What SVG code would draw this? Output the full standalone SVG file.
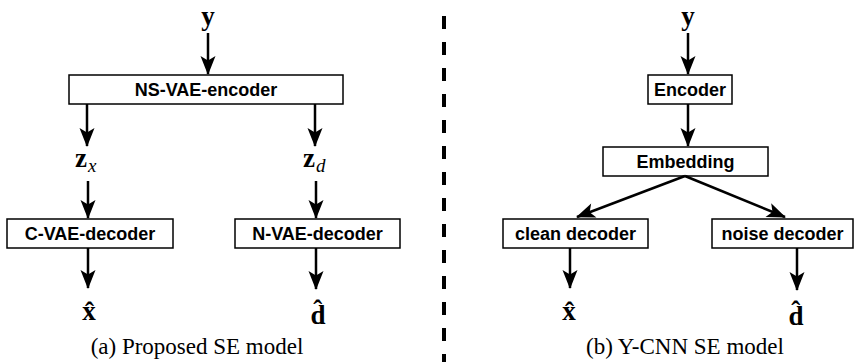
<svg xmlns="http://www.w3.org/2000/svg" width="855" height="362" viewBox="0 0 855 362">
  <style>
    .box { fill: #fff; stroke: #000; stroke-width: 1.5; }
    .lbl { font-family: "Liberation Sans", Arial, sans-serif; font-weight: bold; font-size: 18px; text-anchor: middle; fill: #000; }
    .math { font-family: "Liberation Serif", "Times New Roman", serif; font-weight: bold; font-size: 27px; fill: #000; }
    .sub { font-family: "Liberation Serif", "Times New Roman", serif; font-weight: normal; font-style: italic; font-size: 19px; fill: #000; }
    .cap { font-family: "Liberation Serif", "Times New Roman", serif; font-size: 23px; text-anchor: middle; fill: #000; }
    .edge { stroke: #000; stroke-width: 2.5; fill: none; marker-end: url(#arrow); }
    .sep { stroke: #000; stroke-width: 4; stroke-dasharray: 13 13; }
  </style>
  <defs>
    <marker id="arrow" markerUnits="userSpaceOnUse" markerWidth="24" markerHeight="20" viewBox="-21 -10 24 20" refX="0" refY="0" orient="auto">
      <path d="M1,0 L-18,-7.5 L-13.5,0 L-18,7.5 Z" fill="#000"/>
    </marker>
  </defs>

  <!-- panel divider -->
  <line class="sep" x1="444" y1="16" x2="444" y2="362"/>

  <!-- (a) proposed model -->
  <g id="a-input"><text class="math" x="208" y="25" text-anchor="middle">y</text></g>
  <g id="ns-vae-encoder">
    <rect class="box" x="69" y="75" width="274" height="29"/>
    <text class="lbl" x="206" y="96">NS-VAE-encoder</text>
  </g>
  <g id="zx"><text class="math" x="75" y="167">z<tspan class="sub" dx="1" dy="5">x</tspan></text></g>
  <g id="zd"><text class="math" x="303" y="167">z<tspan class="sub" dx="1" dy="5">d</tspan></text></g>
  <g id="c-vae-decoder">
    <rect class="box" x="7" y="219" width="166" height="29"/>
    <text class="lbl" x="90" y="240">C-VAE-decoder</text>
  </g>
  <g id="n-vae-decoder">
    <rect class="box" x="235" y="219" width="165" height="29"/>
    <text class="lbl" x="317.5" y="240">N-VAE-decoder</text>
  </g>
  <g id="a-xhat"><text class="math" x="89" y="320" text-anchor="middle">x̂</text></g>
  <g id="a-dhat"><text class="math" x="318" y="324" text-anchor="middle">d̂</text></g>
  <text class="cap" x="197" y="354">(a) Proposed SE model</text>

  <!-- (b) Y-CNN model -->
  <g id="b-input"><text class="math" x="688" y="25" text-anchor="middle">y</text></g>
  <g id="encoder">
    <rect class="box" x="648" y="75" width="84" height="29"/>
    <text class="lbl" x="690" y="96">Encoder</text>
  </g>
  <g id="embedding">
    <rect class="box" x="603" y="147" width="165" height="29"/>
    <text class="lbl" x="685.5" y="168">Embedding</text>
  </g>
  <g id="clean-decoder">
    <rect class="box" x="503" y="219" width="145" height="29"/>
    <text class="lbl" x="575.5" y="240">clean decoder</text>
  </g>
  <g id="noise-decoder">
    <rect class="box" x="712" y="219" width="141" height="29"/>
    <text class="lbl" x="782.5" y="240">noise decoder</text>
  </g>
  <g id="b-xhat"><text class="math" x="569" y="320" text-anchor="middle">x̂</text></g>
  <g id="b-dhat"><text class="math" x="796" y="325" text-anchor="middle">d̂</text></g>
  <text class="cap" x="685" y="354">(b) Y-CNN SE model</text>

  <!-- connectors -->
  <g id="connectors">
    <line class="edge" x1="208" y1="33" x2="208" y2="74"/>
    <line class="edge" x1="87" y1="104" x2="87" y2="146"/>
    <line class="edge" x1="315" y1="104" x2="315" y2="146"/>
    <line class="edge" x1="88" y1="181" x2="88" y2="218"/>
    <line class="edge" x1="316" y1="181" x2="316" y2="218"/>
    <line class="edge" x1="88" y1="248" x2="88" y2="288"/>
    <line class="edge" x1="316" y1="248" x2="316" y2="289"/>

    <line class="edge" x1="688" y1="33" x2="688" y2="74"/>
    <line class="edge" x1="688" y1="104" x2="688" y2="146"/>
    <line class="edge" x1="685" y1="176" x2="577" y2="217"/>
    <line class="edge" x1="685" y1="176" x2="785" y2="217"/>
    <line class="edge" x1="570" y1="248" x2="570" y2="288"/>
    <line class="edge" x1="797" y1="248" x2="797" y2="290"/>
  </g>
</svg>
